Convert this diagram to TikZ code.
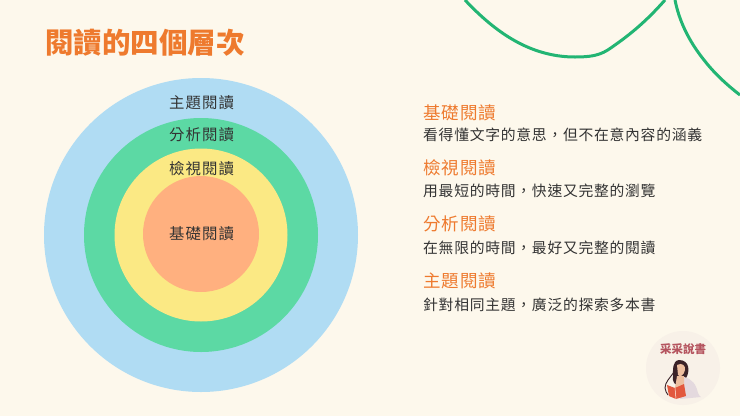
\documentclass[tikz,border=0pt]{standalone}
\usepackage{fontspec}
\setmainfont{Noto Sans CJK TC}
\newfontfamily\bodyfont[LetterSpace=5]{Noto Sans CJK TC}
\newfontfamily\ringfont[LetterSpace=7]{Noto Sans CJK TC}
\newfontfamily\headfont[LetterSpace=6]{Noto Sans CJK TC}
\usepackage{xcolor}
\usetikzlibrary{positioning}
\definecolor{paper}{HTML}{FDF8EC}
\definecolor{ringblue}{HTML}{B0DCF3}
\definecolor{ringgreen}{HTML}{5CD9A4}
\definecolor{ringyellow}{HTML}{FBE984}
\definecolor{ringorange}{HTML}{FFB07F}
\definecolor{headorange}{HTML}{EE7A2E}
\definecolor{curvegreen}{HTML}{22B573}
\definecolor{inkdark}{HTML}{333333}
\definecolor{logoback}{HTML}{F8F1E8}
\definecolor{logored}{HTML}{B5545F}
\definecolor{hairdark}{HTML}{3A2228}
\definecolor{skintone}{HTML}{EDBE9F}
\definecolor{blouse}{HTML}{E4D9DE}
\definecolor{bookred}{HTML}{E2583E}
\tikzset{
    ringlabel/.style={font=\ringfont\fontsize{15.4}{17}\selectfont, text=inkdark},
    levelhead/.style={right, inner sep=0pt, font=\headfont\fontsize{17.5}{20}\selectfont, text=headorange},
    leveltext/.style={right, inner sep=0pt, font=\bodyfont\fontsize{14.8}{16}\selectfont, text=inkdark},
}
\begin{document}
\begin{tikzpicture}[x=1pt, y=-1pt]
    \useasboundingbox (0, 0) rectangle (740, 416);
    \fill[paper] (0, 0) rectangle (740, 416);

    % Curves top right
    \draw[curvegreen, line width=3pt] (465, 0) .. controls (495, 32) and (530, 57) .. (575, 57)
        .. controls (598, 57) and (604, 53) .. (615, 45) .. controls (635, 31) and (650, 17) .. (665, 0);
    \draw[curvegreen, line width=3pt] (675, 0) .. controls (679, 20) and (688, 40) .. (704, 60)
        .. controls (714, 73) and (727, 85) .. (740, 95);

    % Title
    \node[right, inner sep=0pt, font=\bfseries\fontsize{28.5}{30}\selectfont, text=headorange] (title) at (45, 43) {閱讀的四個層次};

    % Rings
    \fill[ringblue] (201, 235) circle (157);
    \fill[ringgreen] (201, 235) circle (117);
    \fill[ringyellow] (201, 235) circle (86.5);
    \fill[ringorange] (201, 234) circle (58);

    % Ring labels
    \node[ringlabel] (ringtopic) at (201.5, 103) {主題閱讀};
    \node[ringlabel] (ringanalysis) at (201.5, 135) {分析閱讀};
    \node[ringlabel] (ringinspect) at (201.5, 169) {檢視閱讀};
    \node[ringlabel] (ringbasic) at (201.5, 234) {基礎閱讀};

    % Right column
    \node[levelhead] (headbasic) at (423, 113) {基礎閱讀};
    \node[leveltext] (textbasic) at (423, 135) {看得懂文字的意思，但不在意內容的涵義};
    \node[levelhead] (headinspect) at (423, 168) {檢視閱讀};
    \node[leveltext] (textinspect) at (423, 191) {用最短的時間，快速又完整的瀏覽};
    \node[levelhead] (headanalysis) at (423, 224) {分析閱讀};
    \node[leveltext] (textanalysis) at (423, 248) {在無限的時間，最好又完整的閱讀};
    \node[levelhead] (headtopic) at (423, 281) {主題閱讀};
    \node[leveltext] (texttopic) at (423, 305) {針對相同主題，廣泛的探索多本書};

    % Logo
    \fill[logoback] (683, 368) circle (37);
    \node[font=\bfseries\fontsize{11.5}{13}\selectfont, text=logored] (logoname) at (683, 349) {采采說書};
    % hair
    \fill[hairdark] (679, 360) .. controls (672, 361) and (673, 370) .. (673, 376)
        .. controls (672, 382) and (675, 386) .. (680, 385)
        -- (686, 378) .. controls (690, 372) and (690, 360) .. (679, 360) -- cycle;
    \draw[hairdark, line width=0.9pt] (674, 372) .. controls (670, 378) and (665, 382) .. (665, 388)
        .. controls (665, 391) and (667, 393) .. (668, 395);
    % blouse
    \fill[blouse] (684, 377) .. controls (692, 379) and (696, 384) .. (698, 393)
        .. controls (699, 396) and (700, 396) .. (701, 397) -- (680, 399) -- cycle;
    % neck and face
    \fill[skintone] (677, 376) -- (684, 376) -- (684, 387) -- (675, 388) -- cycle;
    \fill[skintone] (677, 365) .. controls (682, 362) and (686, 366) .. (685, 370)
        .. controls (684, 375) and (680, 378) .. (678, 375) -- cycle;
    % book
    \fill[bookred] (667, 385) -- (675, 388) -- (684, 384) -- (686, 396) -- (676, 399) -- (669, 396) -- cycle;
    \draw[paper, line width=0.5pt] (675, 388) -- (676, 399);
\end{tikzpicture}
\end{document}
